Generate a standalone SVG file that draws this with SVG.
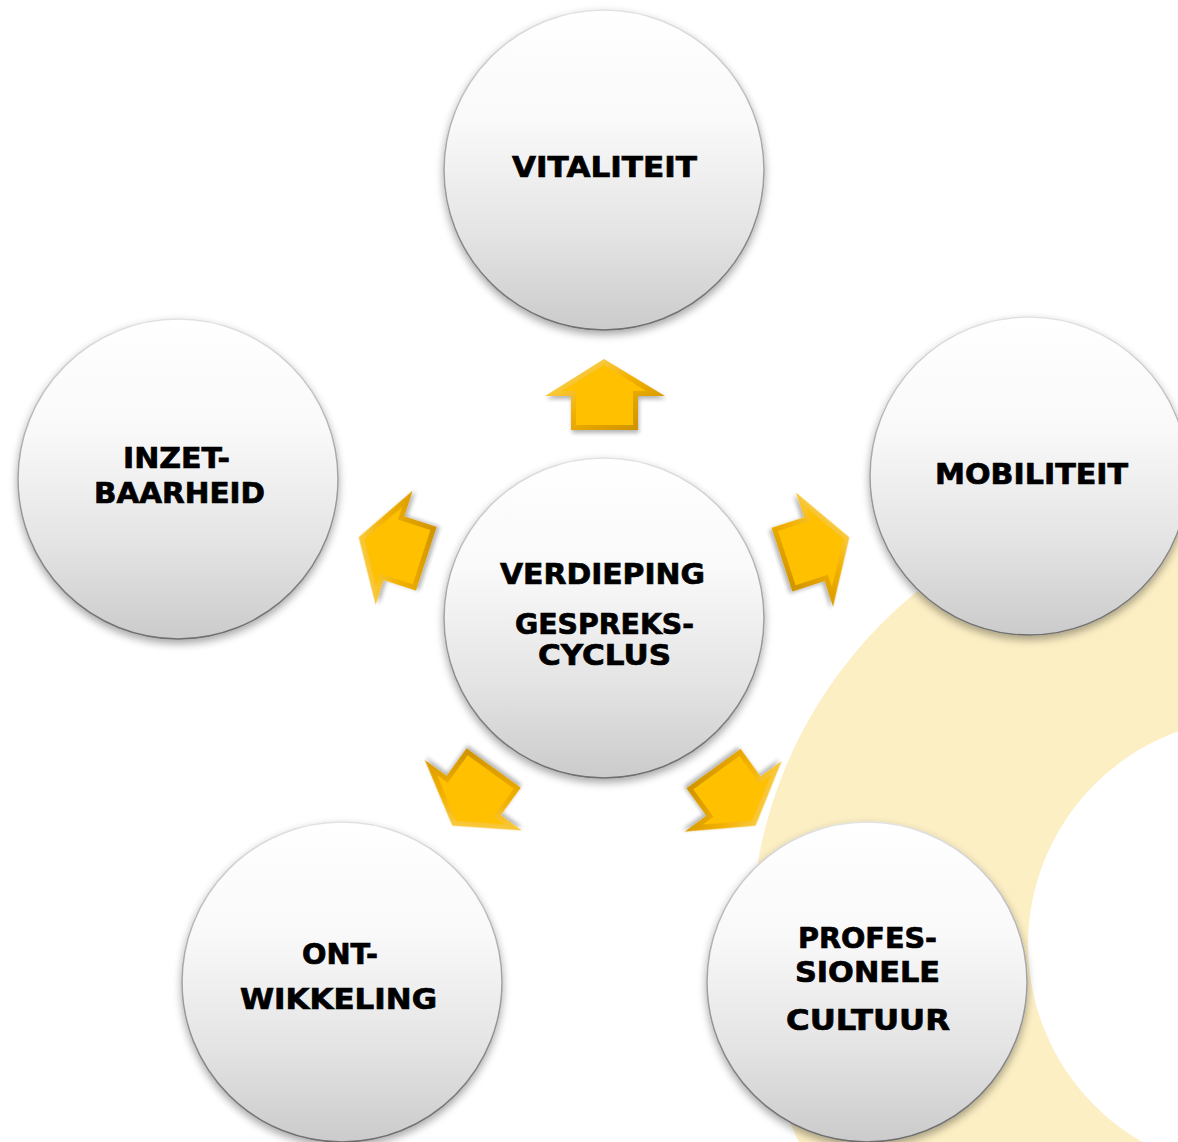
<svg xmlns="http://www.w3.org/2000/svg" xmlns:xlink="http://www.w3.org/1999/xlink" width="1178" height="1142" viewBox="0 0 1178 1142">
  <defs>
    <linearGradient id="ballFill" x1="0" y1="0" x2="0" y2="1">
      <stop offset="0" stop-color="#ffffff"/>
      <stop offset="0.35" stop-color="#f9f9f9"/>
      <stop offset="0.7" stop-color="#e4e4e4"/>
      <stop offset="1" stop-color="#cbcbcb"/>
    </linearGradient>
    <linearGradient id="ballRim" x1="0" y1="0" x2="0" y2="1">
      <stop offset="0" stop-color="#e2e2e2"/>
      <stop offset="0.5" stop-color="#a0a0a0"/>
      <stop offset="1" stop-color="#6e6e6e"/>
    </linearGradient>
    <linearGradient id="goldEdge" x1="0" y1="0" x2="1" y2="1">
      <stop offset="0" stop-color="#ffe27a"/>
      <stop offset="0.5" stop-color="#f2b000"/>
      <stop offset="1" stop-color="#c48a00"/>
    </linearGradient>
    <filter id="shadow" x="-20%" y="-20%" width="140%" height="150%">
      <feGaussianBlur in="SourceAlpha" stdDeviation="4"/>
      <feOffset dx="0" dy="4" result="b"/>
      <feComponentTransfer><feFuncA type="linear" slope="0.35"/></feComponentTransfer>
      <feMerge><feMergeNode/><feMergeNode in="SourceGraphic"/></feMerge>
    </filter>
    <filter id="ashadow" x="-30%" y="-30%" width="160%" height="160%">
      <feGaussianBlur in="SourceAlpha" stdDeviation="2"/>
      <feOffset dx="1" dy="3"/>
      <feComponentTransfer><feFuncA type="linear" slope="0.3"/></feComponentTransfer>
      <feMerge><feMergeNode/><feMergeNode in="SourceGraphic"/></feMerge>
    </filter>
    <g id="arrow" filter="url(#ashadow)">
      <polygon points="604,359 665,396 638,396 638,430 571,430 571,396 545,396" fill="url(#goldEdge)"/>
      <polygon points="604,365 646,391 633,391 633,425 576,425 576,391 562,391" fill="#ffc000"/>
    </g>
    <style>
      .ball { fill: url(#ballFill); stroke: url(#ballRim); stroke-width: 1.5; filter: url(#shadow); }
      .lbl { font-family: "DejaVu Sans", "Liberation Sans", sans-serif; font-weight: bold; font-size: 28px; fill: #000; stroke: #000; stroke-width: 0.7; }
    </style>
  </defs>

  <rect width="1178" height="1142" fill="#ffffff"/>
  <g id="background">
    <circle cx="1200" cy="940" r="449" fill="#fdefc4"/>
    <circle cx="1255" cy="945" r="227" fill="#ffffff"/>
  </g>

  <g id="connectors">
    <use xlink:href="#arrow"/>
    <use xlink:href="#arrow" transform="rotate(72 604 617)"/>
    <use xlink:href="#arrow" transform="rotate(144 604 617)"/>
    <use xlink:href="#arrow" transform="rotate(-144 604 617)"/>
    <use xlink:href="#arrow" transform="rotate(-72 604 617)"/>
  </g>

  <g id="node-vitaliteit">
    <circle class="ball" cx="604" cy="170" r="160"/>
    <text class="lbl" x="512" y="177" textLength="185" lengthAdjust="spacingAndGlyphs">VITALITEIT</text>
  </g>
  <g id="node-inzetbaarheid">
    <circle class="ball" cx="178" cy="479" r="160"/>
    <text class="lbl" x="123" y="468" textLength="107" lengthAdjust="spacingAndGlyphs">INZET-</text>
    <text class="lbl" x="94" y="503" textLength="171" lengthAdjust="spacingAndGlyphs">BAARHEID</text>
  </g>
  <g id="node-mobiliteit">
    <circle class="ball" cx="1029" cy="476" r="159"/>
    <text class="lbl" x="935" y="484" textLength="193" lengthAdjust="spacingAndGlyphs">MOBILITEIT</text>
  </g>
  <g id="node-ontwikkeling">
    <circle class="ball" cx="342" cy="982" r="160"/>
    <text class="lbl" x="302" y="964" textLength="76" lengthAdjust="spacingAndGlyphs">ONT-</text>
    <text class="lbl" x="240" y="1009" textLength="197" lengthAdjust="spacingAndGlyphs">WIKKELING</text>
  </g>
  <g id="node-professionele-cultuur">
    <circle class="ball" cx="867" cy="982" r="160"/>
    <text class="lbl" x="798" y="948" textLength="139" lengthAdjust="spacingAndGlyphs">PROFES-</text>
    <text class="lbl" x="795" y="982" textLength="145" lengthAdjust="spacingAndGlyphs">SIONELE</text>
    <text class="lbl" x="786" y="1030" textLength="164" lengthAdjust="spacingAndGlyphs">CULTUUR</text>
  </g>
  <g id="node-center">
    <circle class="ball" cx="604" cy="618" r="160"/>
    <text class="lbl" x="500" y="584" textLength="205" lengthAdjust="spacingAndGlyphs">VERDIEPING</text>
    <text class="lbl" x="515" y="634" textLength="179" lengthAdjust="spacingAndGlyphs">GESPREKS-</text>
    <text class="lbl" x="538" y="665" textLength="133" lengthAdjust="spacingAndGlyphs">CYCLUS</text>
  </g>
</svg>
